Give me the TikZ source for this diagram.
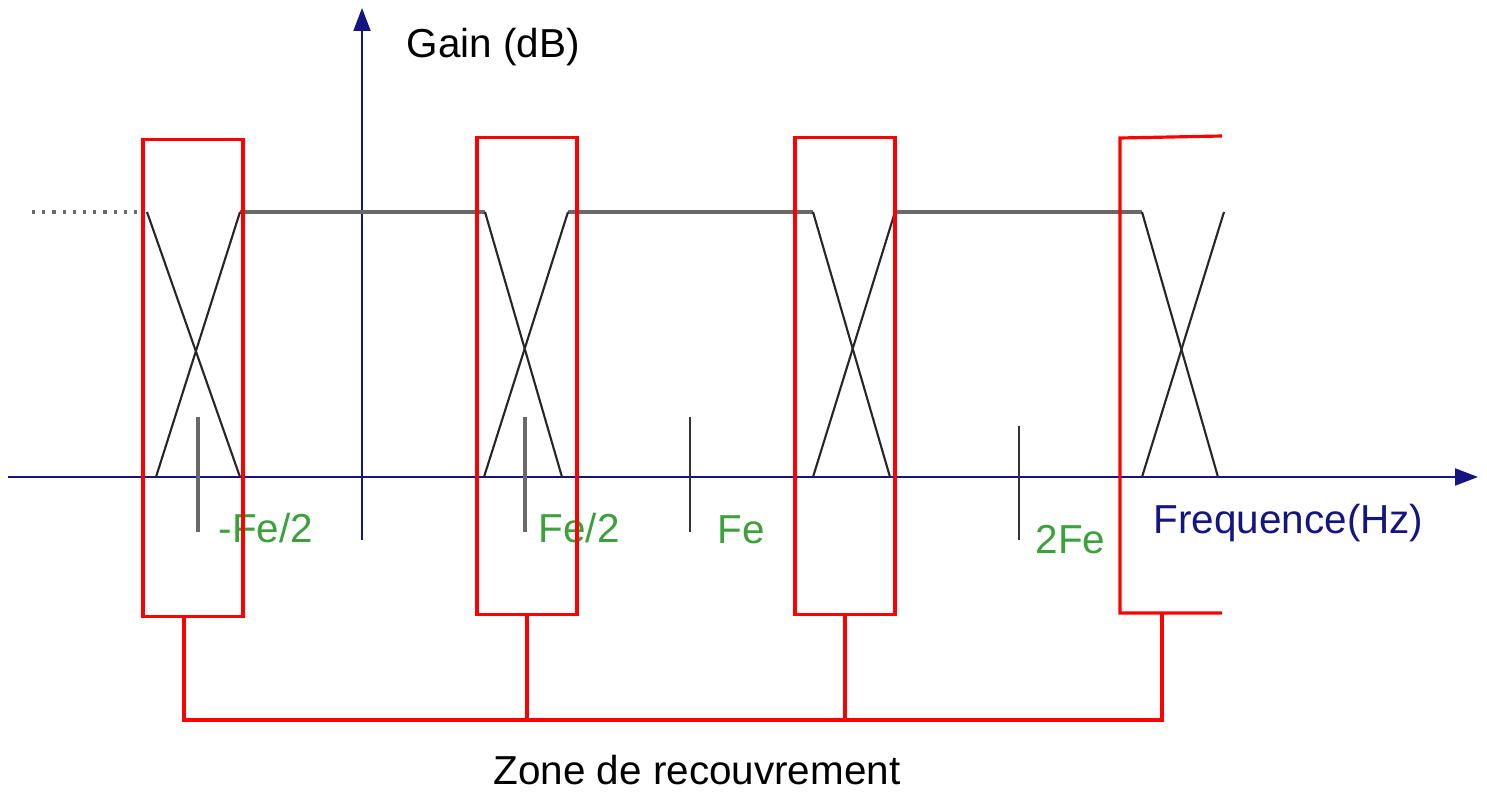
\documentclass[tikz,border=0pt]{standalone}
\usepackage{fontspec}
\setmainfont{Liberation Sans}
\usetikzlibrary{arrows.meta,positioning,calc}
\definecolor{axisblue}{RGB}{20,20,130}
\definecolor{labelgreen}{RGB}{60,160,60}
\definecolor{gaingray}{RGB}{105,105,105}

\begin{document}
\begin{tikzpicture}[x=0.01cm, y=-0.01cm, >={Triangle[length=6.5pt,width=4.8pt]},
    font=\fontsize{11.5}{14}\selectfont]
    \tikzset{
        zone/.style={draw=red, line width=0.9pt, minimum width=1cm, minimum height=4.76cm, inner sep=0pt},
        axe/.style={draw=axisblue, line width=0.6pt},
        gain/.style={draw=gaingray, line width=0.9pt},
        pente/.style={draw=black!85, line width=0.6pt},
        repere/.style={line width=0.9pt},
        freq/.style={text=labelgreen, anchor=west, inner sep=0pt},
        lien/.style={draw=red, line width=0.9pt}
    }
    \useasboundingbox (0,0) rectangle (1487,794);

    % axes
    \coordinate (xg) at (8,477);
    \coordinate (xd) at (1478,477);
    \coordinate (yb) at (362,540);
    \coordinate (yh) at (362,8);
    \draw[axe, ->] (xg) -- (xd);
    \draw[axe, ->] (yb) -- (yh);
    \node[anchor=west, inner sep=0pt] (gainlbl) at (406,47) {Gain (dB)};
    \node[anchor=west, inner sep=0pt, text=axisblue] (freqlbl) at (1153,523) {Frequence(Hz)};

    % gain du filtre (plateaux)
    \draw[gain, dotted] (32,212) -- (145,212);
    \draw[gain] (240,212) -- (485,212);
    \draw[gain] (568,212) -- (813,212);
    \draw[gain] (895,212) -- (1142,212);

    % pentes croisees dans chaque zone
    \foreach \a/\b/\c/\d in {147/240/240/156, 485/562/568/484, 813/890/895/813, 1142/1218/1224/1142}{
        \draw[pente] (\a,212) -- (\b,477);
        \draw[pente] (\c,212) -- (\d,477);
    }

    % reperes de frequence
    \draw[repere, gaingray] (198,417) -- (198,532);
    \draw[repere, gaingray] (525,417) -- (525,532);
    \draw[repere, black!80, line width=0.7pt] (690,417) -- (690,532);
    \draw[repere, black!80, line width=0.7pt] (1019,426) -- (1019,540);
    \node[freq] (mfe2) at (218,528) {-Fe/2};
    \node[freq] (fe2) at (538,528) {Fe/2};
    \node[freq] (fe) at (717,530) {Fe};
    \node[freq] (dfe) at (1035,540) {2Fe};

    % zones de recouvrement
    \node[zone] (z1) at (193,378) {};
    \node[zone] (z2) at (527,376) {};
    \node[zone] (z3) at (845,376) {};
    \coordinate (z4h) at (1222,136);
    \coordinate (z4b) at (1222,613);
    \draw[lien] (z4h) -- (1120,138) -- (1120,613) -- (z4b);
    \coordinate (z4) at (1162,613);

    % liaison vers la legende
    \coordinate (l1) at (184,720);
    \coordinate (l4) at (1162,720);
    \draw[lien] (z1.south -| l1) -- (l1) -- (l4) -- (z4);
    \draw[lien] (z2.south) -- (z2.south |- l1);
    \draw[lien] (z3.south) -- (z3.south |- l1);
    \node (zonelbl) at (697,770) {Zone de recouvrement};
\end{tikzpicture}
\end{document}
